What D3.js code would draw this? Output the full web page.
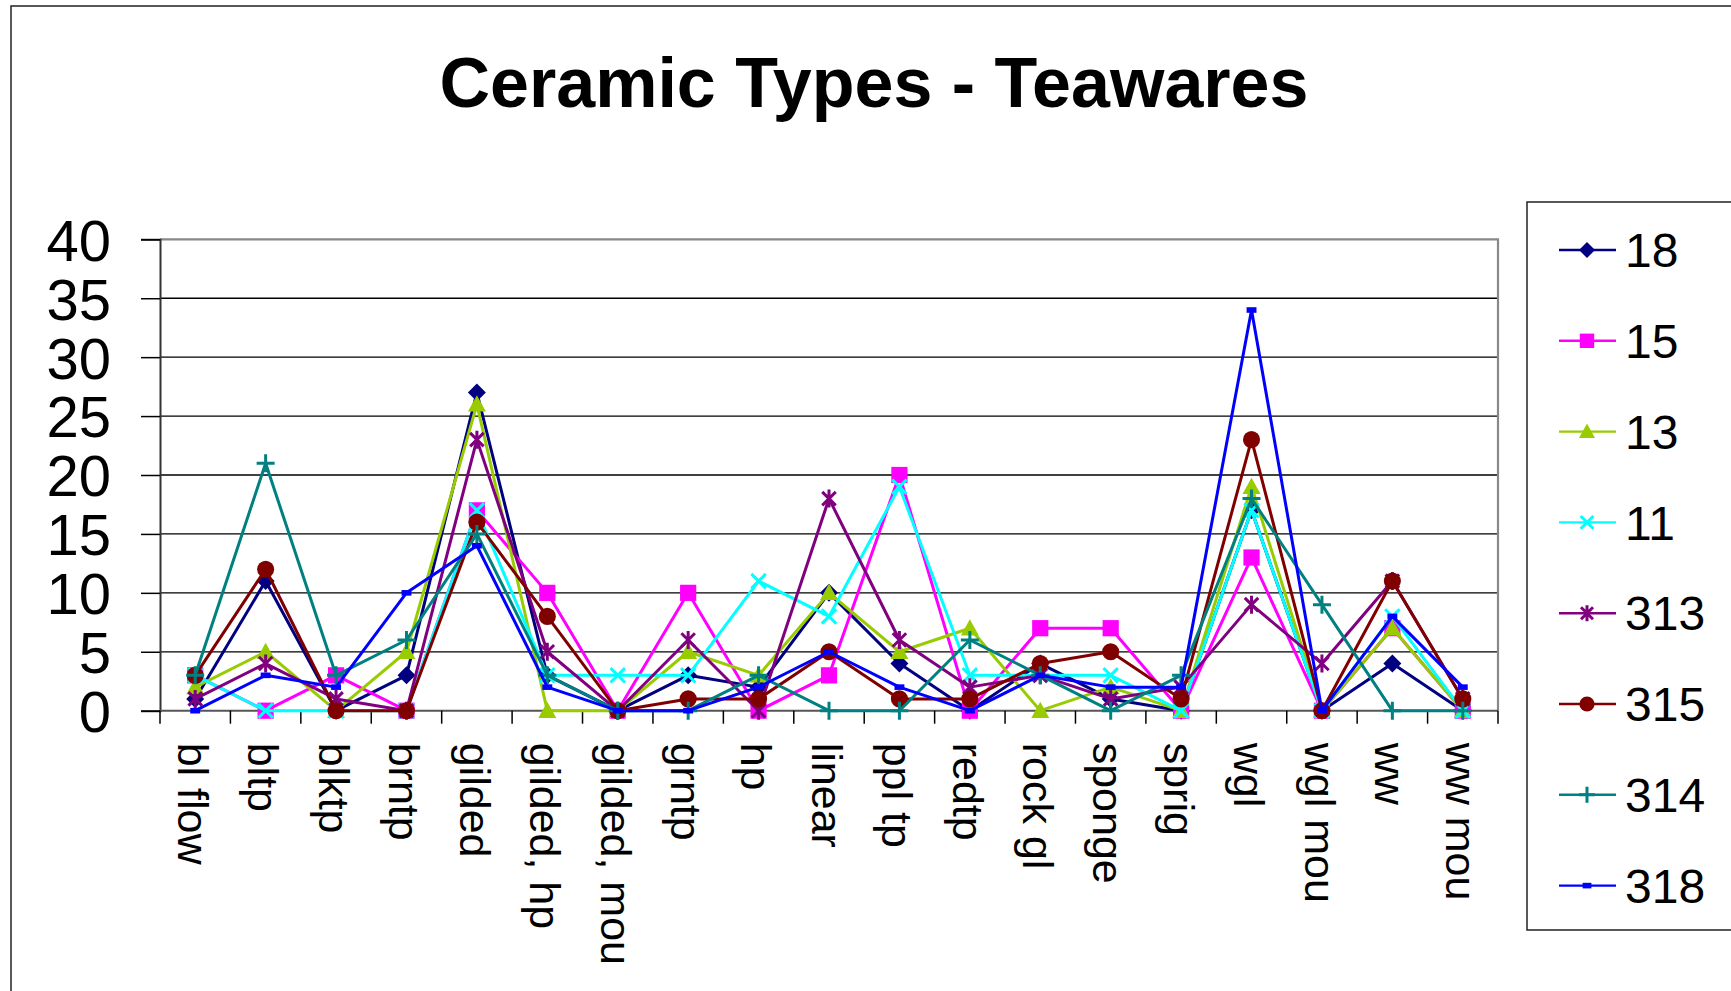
<!DOCTYPE html>
<html lang="en">
<head>
  <meta charset="UTF-8" />
  <title>Ceramic Types - Teawares</title>
  <script src="https://d3js.org/d3.v7.min.js"></script>
  <style>
    html, body { margin: 0; padding: 0; background: #fff; overflow: hidden; }
    svg { display: block; font-family: "Liberation Sans", Arial, sans-serif; }
    .grid line { stroke: #000; stroke-width: 1.3px; }
    .series path.line { fill: none; stroke-width: 3px; stroke-linejoin: round; }
  </style>
</head>
<body>
  <svg width="1731" height="991"></svg>
  <script>
    const categories = ["bl flow", "bltp", "blktp", "brntp", "gilded", "gilded, hp", "gilded, mou",
      "grntp", "hp", "linear", "ppl tp", "redtp", "rock gl", "sponge", "sprig", "wgl", "wgl mou", "ww", "ww mou"];

    const seriesNames = ["18", "15", "13", "11", "313", "315", "314", "318"];
    const colors = ["#000080", "#ff00ff", "#99cc00", "#00ffff", "#800080", "#800000", "#008080", "#0000ff"];
    const markers = ["diamond", "square", "triangle", "x", "star", "circle", "plus", "dash"];

    const s18  = [1, 11, 0, 3, 27, 3, 0, 3, 2, 10, 4, 0, 4, 1, 0, 17, 0, 4, 0];
    const s15  = [3, 0, 3, 0, 17, 10, 0, 10, 0, 3, 20, 0, 7, 7, 0, 13, 0, 7, 0];
    const s13  = [2, 5, 0, 5, 26, 0, 0, 5, 3, 10, 5, 7, 0, 2, 0, 19, 0, 7, 0];
    const s11  = [3, 0, 0, 0, 17, 3, 3, 3, 11, 8, 19, 3, 3, 3, 0, 17, 0, 8, 0];
    const s313 = [1, 4, 1, 0, 23, 5, 0, 6, 0, 18, 6, 2, 3, 1, 2, 9, 4, 11, 1];
    const s315 = [3, 12, 0, 0, 16, 8, 0, 1, 1, 5, 1, 1, 4, 5, 1, 23, 0, 11, 1];
    const s314 = [3, 21, 3, 6, 15, 3, 0, 0, 3, 0, 0, 6, 3, 0, 3, 18, 9, 0, 0];
    const s318 = [0, 3, 2, 10, 14, 2, 0, 0, 2, 5, 2, 0, 3, 2, 2, 34, 0, 8, 2];
    const seriesValues = [s18, s15, s13, s11, s313, s315, s314, s318];

    const yTicks = [0, 5, 10, 15, 20, 25, 30, 35, 40];

    const svg = d3.select("svg");
    const plotLeft = 160, plotRight = 1498, plotTop = 239.3, plotBottom = 710.7;

    const x = d3.scaleBand().domain(categories).range([plotLeft, plotRight]).padding(0);
    const cx = d => x(d) + x.bandwidth() / 2;
    const y = d3.scaleLinear().domain([0, 40]).range([plotBottom, plotTop]);

    // chart area border (cut off at right and bottom)
    svg.append("path")
      .attr("d", "M11,991 L11,6 L1731,6")
      .attr("fill", "none").attr("stroke", "#222").attr("stroke-width", 1.5);

    svg.append("text")
      .attr("x", 874).attr("y", 107)
      .attr("text-anchor", "middle")
      .attr("font-size", 70).attr("font-weight", "bold")
      .text("Ceramic Types - Teawares");

    // gridlines
    svg.append("g").attr("class", "grid")
      .selectAll("line").data(yTicks.filter(t => t > 0 && t < 40)).enter()
      .append("line")
      .attr("x1", plotLeft).attr("x2", plotRight)
      .attr("y1", d => y(d)).attr("y2", d => y(d));

    // plot border top/right
    svg.append("path")
      .attr("d", `M${plotLeft},${y(40)} L${plotRight},${y(40)} L${plotRight},${y(0)}`)
      .attr("fill", "none").attr("stroke", "#888").attr("stroke-width", 2.2);

    // y axis
    const yAxis = svg.append("g")
      .attr("transform", `translate(${plotLeft},0)`)
      .call(d3.axisLeft(y).tickValues(yTicks).tickSize(19).tickPadding(30));
    yAxis.select(".domain").attr("stroke", "#333").attr("stroke-width", 2);
    yAxis.selectAll(".tick line").attr("stroke", "#000").attr("stroke-width", 1.5);
    yAxis.selectAll(".tick text")
      .attr("font-size", 58).attr("font-family", "Liberation Sans, Arial, sans-serif")
      .attr("fill", "#000").attr("dy", "0.36em");

    // x axis
    const xAxis = svg.append("g").attr("transform", `translate(0,${plotBottom})`);
    xAxis.append("line")
      .attr("x1", plotLeft).attr("x2", plotRight)
      .attr("stroke", "#555").attr("stroke-width", 2);
    xAxis.selectAll("line.tick")
      .data(categories.map(c => x(c)).concat([plotRight])).enter()
      .append("line").attr("class", "tick")
      .attr("x1", d => d).attr("x2", d => d)
      .attr("y1", 0).attr("y2", 13)
      .attr("stroke", "#000").attr("stroke-width", 1.5);
    xAxis.selectAll("text")
      .data(categories).enter()
      .append("text")
      .attr("transform", d => `translate(${cx(d)},32) rotate(90)`)
      .attr("dy", "0.4em")
      .attr("font-size", 43)
      .text(d => d);

    // marker shapes
    function drawMarker(g, type, color, size) {
      const r = size / 2;
      if (type === "diamond") {
        g.append("path").attr("d", `M0,${-r}L${r},0L0,${r}L${-r},0Z`).attr("fill", color);
      } else if (type === "square") {
        g.append("rect").attr("x", -r * 0.9).attr("y", -r * 0.9)
          .attr("width", r * 1.8).attr("height", r * 1.8).attr("fill", color);
      } else if (type === "triangle") {
        g.append("path").attr("d", `M0,${-r}L${r},${r * 0.8}L${-r},${r * 0.8}Z`).attr("fill", color);
      } else if (type === "circle") {
        g.append("circle").attr("r", r * 0.95).attr("fill", color);
      } else if (type === "x") {
        const a = r * 0.8;
        g.append("path").attr("d", `M${-a},${-a}L${a},${a}M${-a},${a}L${a},${-a}`)
          .attr("stroke", color).attr("stroke-width", 3).attr("fill", "none");
      } else if (type === "star") {
        const a = r * 0.75;
        g.append("path").attr("d", `M${-a},${-a}L${a},${a}M${-a},${a}L${a},${-a}M0,${-r}L0,${r}`)
          .attr("stroke", color).attr("stroke-width", 3).attr("fill", "none");
      } else if (type === "plus") {
        g.append("path").attr("d", `M${-r},0L${r},0M0,${-r}L0,${r}`)
          .attr("stroke", color).attr("stroke-width", 3).attr("fill", "none");
      } else if (type === "dash") {
        g.append("rect").attr("x", -r * 0.55).attr("y", -2.8)
          .attr("width", r * 1.1).attr("height", 5.6).attr("fill", color);
      }
    }

    const line = d3.line().x((d, i) => cx(categories[i])).y(d => y(d));

    seriesNames.forEach((name, si) => {
      const g = svg.append("g").attr("class", "series");
      g.append("path").attr("class", "line")
        .attr("d", line(seriesValues[si]))
        .attr("stroke", colors[si]);
      seriesValues[si].forEach((v, i) => {
        const m = g.append("g").attr("transform", `translate(${cx(categories[i])},${y(v)})`);
        drawMarker(m, markers[si], colors[si], 18);
      });
    });

    // legend
    const legend = svg.append("g");
    legend.append("path")
      .attr("d", "M1740,202 L1527,202 L1527,930 L1740,930")
      .attr("fill", "#fff").attr("stroke", "#222").attr("stroke-width", 1.5);
    seriesNames.forEach((name, si) => {
      const ly = 250 + si * 90.8;
      const item = legend.append("g").attr("transform", `translate(0,${ly})`);
      item.append("line").attr("x1", 1559).attr("x2", 1616)
        .attr("stroke", colors[si]).attr("stroke-width", 2.4);
      const m = item.append("g").attr("transform", "translate(1587,0)");
      drawMarker(m, markers[si], colors[si], 16);
      item.append("text").attr("x", 1625).attr("dy", "0.36em")
        .attr("font-size", 48).text(name);
    });
  </script>
</body>
</html>
